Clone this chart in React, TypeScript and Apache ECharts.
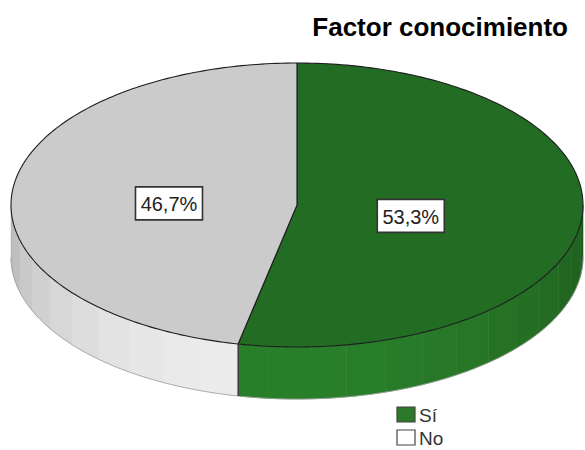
import React, { useEffect, useRef } from "react";
import * as echarts from "echarts";

const categories = ["Sí", "No"];
const values = [53.3, 46.7];
const labels = ["53,3%", "46,7%"];
const title = "Factor conocimiento";

const TOP_COLORS = [[35, 108, 35], [203, 203, 203]];
const LEGEND_COLORS = ["#2a7a2a", "#ffffff"];
const LABEL_R = [0.4, 0.45];

const CX = 297, CY = 205, RX = 286, RY = 142, DEPTH = 52;

function pt(theta: number, dy: number) {
  const t = (theta * Math.PI) / 180;
  return [CX + RX * Math.sin(t), CY - RY * Math.cos(t) + dy];
}

function shade(c: number[], f: number) {
  const v = c.map((x) => Math.max(0, Math.min(255, Math.round(x * f))));
  return `rgb(${v[0]},${v[1]},${v[2]})`;
}

export default function App() {
  const ref = useRef<HTMLDivElement>(null);
  useEffect(() => {
    if (!ref.current) return;
    const chart = echarts.init(ref.current, undefined, { renderer: "svg" });
    const total = values.reduce((a, b) => a + b, 0);
    const starts: number[] = [];
    let acc = 0;
    values.forEach((v) => {
      starts.push((acc / total) * 360);
      acc += v;
    });

    const renderItem = (params: any, api: any) => {
      const i = params.dataIndex;
      const v = api.value(0);
      const a0 = starts[i];
      const a1 = a0 + (v / total) * 360;
      const base = TOP_COLORS[i];
      const children: any[] = [];

      // side walls (front half: 90..270)
      const s0 = Math.max(a0, 90);
      const s1 = Math.min(a1, 270);
      if (s1 > s0) {
        const step = 8;
        for (let b = s0; b < s1; b += step) {
          const e = Math.min(b + step, s1);
          const pts: number[][] = [];
          for (let t = b; t <= e + 1e-6; t += 1) pts.push(pt(Math.min(t, e), 0));
          pts.push(pt(e, 0));
          const bot: number[][] = [];
          for (let t = b; t <= e + 1e-6; t += 1) bot.push(pt(Math.min(t, e), DEPTH));
          bot.push(pt(e, DEPTH));
          const poly = pts.concat(bot.reverse());
          const mid = (b + e) / 2;
          const f = 0.87 + 0.3 * Math.cos(((mid - 185) * Math.PI) / 180);
          children.push({
            type: "polygon",
            shape: { points: poly },
            style: { fill: shade(base, f), stroke: shade(base, f), lineWidth: 0.6 },
          });
        }
        const bottomLine: number[][] = [];
        for (let t = s0; t <= s1 + 1e-6; t += 1) bottomLine.push(pt(Math.min(t, s1), DEPTH));
        children.push({
          type: "polyline",
          shape: { points: bottomLine },
          style: { stroke: "#9a9a9a", lineWidth: 0.8, fill: null },
        });
        // vertical boundary lines in front
        [a0, a1].forEach((ang) => {
          if (ang > 90 && ang < 270) {
            children.push({
              type: "line",
              shape: { x1: pt(ang, 0)[0], y1: pt(ang, 0)[1], x2: pt(ang, DEPTH)[0], y2: pt(ang, DEPTH)[1] },
              style: { stroke: "#222", lineWidth: 1.2 },
            });
          }
        });
      }

      // top face
      const top: number[][] = [[CX, CY]];
      for (let t = a0; t <= a1 + 1e-6; t += 1) top.push(pt(Math.min(t, a1), 0));
      top.push(pt(a1, 0));
      children.push({
        type: "polygon",
        shape: { points: top },
        style: { fill: shade(base, 1), stroke: "#1e1e1e", lineWidth: 1.1, lineJoin: "round" },
      });

      // label
      const mid = (a0 + a1) / 2;
      const k = LABEL_R[i];
      const t = (mid * Math.PI) / 180;
      const lx = CX + RX * k * Math.sin(t);
      const ly = CY - RY * k * Math.cos(t) + 5;
      children.push({
        type: "rect",
        shape: { x: lx - 33.5, y: ly - 16.5, width: 67, height: 33 },
        style: { fill: "#fff", stroke: "#333", lineWidth: 1.6 },
      });
      children.push({
        type: "text",
        style: {
          x: lx,
          y: ly + 1,
          text: labels[i],
          fill: "#222",
          font: "20px 'Liberation Sans', Arial, sans-serif",
          align: "center",
          verticalAlign: "middle",
        },
      });
      return { type: "group", children };
    };

    const legendGraphics: any[] = [];
    categories.forEach((c, i) => {
      const y = 407 + i * 23;
      legendGraphics.push({
        type: "rect",
        shape: { x: 397, y, width: 18, height: 15 },
        style: { fill: LEGEND_COLORS[i], stroke: "#444", lineWidth: 1.2 },
      });
      legendGraphics.push({
        type: "text",
        style: {
          x: 419,
          y: y + 8,
          text: c,
          fill: "#333",
          font: "19px 'Liberation Sans', Arial, sans-serif",
          align: "left",
          verticalAlign: "middle",
        },
      });
    });

    chart.setOption({
      animation: false,
      backgroundColor: "#fff",
      graphic: [
        {
          type: "text",
          style: {
            x: 568,
            y: 27,
            text: title,
            fill: "#000",
            font: "bold 26px 'Liberation Sans', Arial, sans-serif",
            align: "right",
            verticalAlign: "middle",
          },
        },
        ...legendGraphics,
      ],
      series: [
        {
          type: "custom",
          coordinateSystem: "none",
          renderItem,
          data: values.map((v) => [v]),
        },
      ],
    });
    return () => chart.dispose();
  }, []);
  return <div ref={ref} style={{ position: "fixed", left: 0, top: 0, width: 585, height: 450 }} />;
}
